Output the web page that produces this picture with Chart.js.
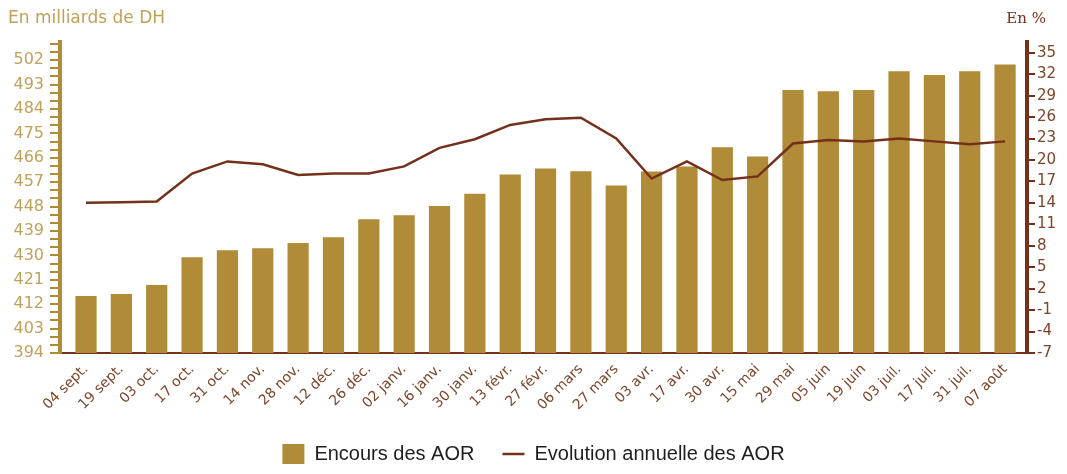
<!DOCTYPE html>
<html>
<head>
<meta charset="utf-8">
<script src="https://cdn.jsdelivr.net/npm/chart.js@4"></script>
<style>
  html, body { margin: 0; padding: 0; background: #fff; }
  canvas { display: block; }
</style>
</head>
<body>
<canvas id="aorChart" width="1067" height="474"></canvas>
<script>
// dates de la serie
const dates = ['04 sept.', '19 sept.', '03 oct.', '17 oct.', '31 oct.', '14 nov.', '28 nov.',
  '12 déc.', '26 déc.', '02 janv.', '16 janv.', '30 janv.', '13 févr.', '27 févr.', '06 mars',
  '27 mars', '03 avr.', '17 avr.', '30 avr.', '15 mai', '29 mai', '05 juin', '19 juin',
  '03 juil.', '17 juil.', '31 juil.', '07 août'];

// encours en milliards de DH
const encours = [415.0, 415.8, 419.1, 429.3, 431.9, 432.6, 434.6, 436.7, 443.3, 444.8,
  448.2, 452.7, 459.8, 462.0, 461.0, 455.8, 460.9, 462.8, 469.9, 466.5,
  491.0, 490.5, 491.0, 497.9, 496.5, 497.9, 500.4];

// evolution annuelle en %
const evolution = [14.0, 14.1, 14.2, 18.1, 19.8, 19.4, 17.9, 18.1, 18.1, 19.1,
  21.7, 22.9, 24.9, 25.7, 25.9, 23.0, 17.4, 19.8, 17.2, 17.7,
  22.3, 22.8, 22.6, 23.0, 22.6, 22.2, 22.6];

const seriesNames = ['Encours des AOR', 'Evolution annuelle des AOR'];
const unitLeft = 'En milliards de DH';
const unitRight = 'En %';

// axes
const leftMin = 394, leftMax = 508.7, leftLabelStep = 9;
const rightMin = -7, rightMax = 36.5;
const tickStep = 3;

const gold = '#b08b38';
const goldText = '#c0a15a';
const brown = '#74301a';
const brownText = '#7d4529';

function stepTicks(axis) {
  let t = [];
  for (let v = axis.min; v <= axis.max + 1e-9; v += tickStep) {
    t.push({ value: Math.round(v * 1000) / 1000 });
  }
  axis.ticks = t;
}

const captions = {
  id: 'captions',
  afterDraw(chart) {
    const ctx = chart.ctx;
    const area = chart.chartArea;
    ctx.save();
    ctx.textBaseline = 'middle';
    ctx.textAlign = 'left';
    ctx.fillStyle = goldText;
    ctx.font = '17px "DejaVu Sans"';
    ctx.fillText(unitLeft, area.left - 52, 19);
    ctx.textAlign = 'right';
    ctx.fillStyle = brown;
    ctx.font = '15px "DejaVu Serif"';
    ctx.fillText(unitRight, area.right + 19, 19);
    ctx.restore();
  }
};

const chart = new Chart(document.getElementById('aorChart'), {
  type: 'bar',
  data: {
    labels: dates,
    datasets: [
      {
        label: seriesNames[0],
        data: encours,
        backgroundColor: gold,
        borderWidth: 0,
        pointStyle: 'rect',
        yAxisID: 'y',
        order: 2,
        categoryPercentage: 1,
        barPercentage: 0.6
      },
      {
        type: 'line',
        label: seriesNames[1],
        data: evolution,
        borderColor: brown,
        backgroundColor: brown,
        borderWidth: 2.5,
        pointRadius: 0,
        pointStyle: 'line',
        tension: 0,
        yAxisID: 'y1',
        order: 1
      }
    ]
  },
  options: {
    responsive: false,
    animation: false,
    devicePixelRatio: 1,
    layout: { padding: { top: 42, left: 0, right: 0, bottom: 0 } },
    plugins: {
      tooltip: { enabled: false },
      legend: {
        position: 'bottom',
        labels: {
          usePointStyle: true,
          pointStyleWidth: 22,
          boxHeight: 22,
          padding: 28,
          color: '#1e1e1e',
          font: { family: '"Liberation Sans", Arial', size: 20 },
          sort: (a, b) => a.datasetIndex - b.datasetIndex
        }
      }
    },
    scales: {
      x: {
        grid: { display: false },
        border: { display: true, color: brown, width: 2 },
        ticks: {
          color: brownText,
          font: { family: '"DejaVu Sans"', size: 14 },
          maxRotation: 45,
          minRotation: 45,
          autoSkip: false,
          padding: 0
        },
        afterBuildTicks: axis => {
          // petite marge a gauche comme sur l'original
          axis._startValue = -0.736;
          axis._valueRange = dates.length + 0.356;
        },
        afterFit: axis => { axis.height = 63; }
      },
      y: {
        position: 'left',
        min: leftMin,
        max: leftMax,
        grid: { display: true, drawOnChartArea: false, color: gold, lineWidth: 2, tickLength: 10 },
        border: { display: true, color: gold, width: 4 },
        ticks: {
          color: goldText,
          font: { family: '"DejaVu Sans"', size: 16 },
          padding: 6,
          autoSkip: false,
          callback: v => ((v - leftMin) % leftLabelStep === 0 ? v : '')
        },
        afterBuildTicks: stepTicks,
        afterFit: axis => { axis.width = 60; }
      },
      y1: {
        position: 'right',
        min: rightMin,
        max: rightMax,
        grid: { display: true, drawOnChartArea: false, color: brown, lineWidth: 2, tickLength: 8 },
        border: { display: true, color: brown, width: 4 },
        ticks: {
          color: brownText,
          font: { family: '"DejaVu Sans"', size: 15 },
          padding: 2,
          autoSkip: false
        },
        afterBuildTicks: stepTicks,
        afterFit: axis => { axis.width = 40; }
      }
    }
  },
  plugins: [captions]
});
</script>
</body>
</html>
